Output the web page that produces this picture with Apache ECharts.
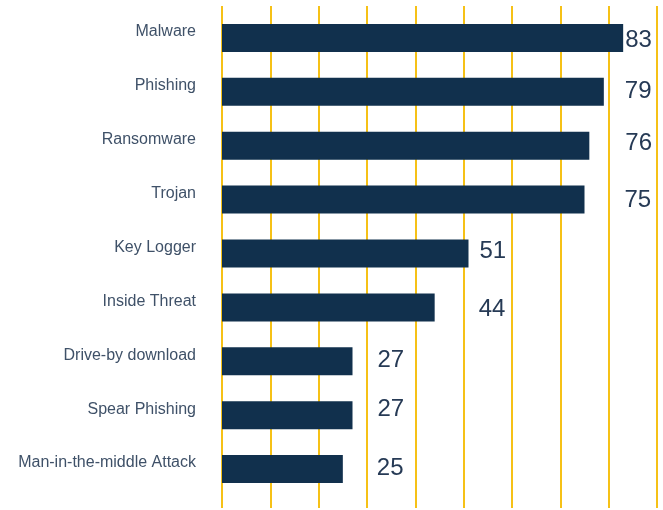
<!DOCTYPE html>
<html>
<head>
<meta charset="utf-8">
<script src="https://cdn.jsdelivr.net/npm/echarts@6/dist/echarts.min.js"></script>
<style>
  html, body { margin: 0; padding: 0; background: #ffffff; }
  #chart { width: 663px; height: 510px; }
</style>
</head>
<body>
<div id="chart"></div>
<script>
// Threat types and how often each was reported
const categories = [
  'Malware', 'Phishing', 'Ransomware', 'Trojan', 'Key Logger',
  'Inside Threat', 'Drive-by download', 'Spear Phishing', 'Man-in-the-middle Attack'
];
const values = [83, 79, 76, 75, 51, 44, 27, 27, 25];

// Value axis range and step
const axisMin = 0;
const axisMax = 90;
const axisStep = 10;

// Per-label nudges [dx, dy] so the value labels sit in loose columns
const labelNudge = [
  [2, 2], [21, 0], [36, -2], [40, 1], [11, -2],
  [44, 2], [25, -1], [25, -6], [34, -1]
];

const gold = '#f6c117';
const navy = '#11304d';

const chart = echarts.init(document.getElementById('chart'), null, { renderer: 'canvas' });

const barData = values.map((v, i) => ({
  value: v,
  label: { offset: labelNudge[i] }
}));

chart.setOption({
  backgroundColor: '#ffffff',
  animation: false,
  grid: [
    { left: 222, right: 6, top: 11, height: 485 },
    { left: 222, right: 6, top: 6, bottom: 2 }
  ],
  xAxis: [
    {
      gridIndex: 0, type: 'value', min: axisMin, max: axisMax, interval: axisStep,
      axisLine: { show: false }, axisTick: { show: false },
      axisLabel: { show: false }, splitLine: { show: false }
    },
    {
      gridIndex: 1, type: 'value', min: axisMin, max: axisMax, interval: axisStep,
      axisLine: { show: false }, axisTick: { show: false },
      axisLabel: { show: false },
      splitLine: { show: true, lineStyle: { color: gold, width: 2 } }
    }
  ],
  yAxis: [
    {
      gridIndex: 0, type: 'category', data: categories, inverse: true,
      axisLine: { show: false }, axisTick: { show: false },
      axisLabel: {
        margin: 26, color: '#3f5168', fontSize: 16,
        fontFamily: 'Liberation Sans, Arial, sans-serif',
        verticalAlign: 'bottom', lineHeight: 12
      }
    },
    {
      gridIndex: 1, type: 'value', show: false
    }
  ],
  series: [
    {
      type: 'bar',
      xAxisIndex: 0, yAxisIndex: 0,
      data: barData,
      barWidth: 28,
      itemStyle: { color: navy },
      z: 3,
      label: {
        show: true, position: 'right', distance: 0,
        color: '#263a55', fontSize: 24,
        fontFamily: 'Liberation Sans, Arial, sans-serif'
      }
    }
  ]
});
</script>
</body>
</html>
